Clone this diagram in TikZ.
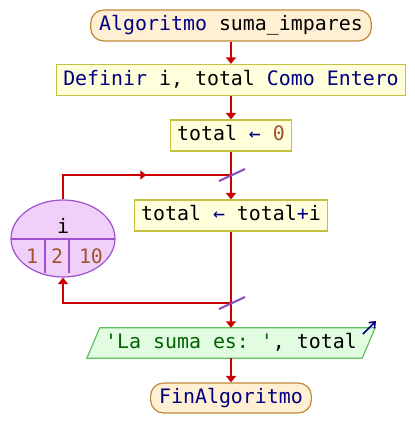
\documentclass[tikz,border=0pt]{standalone}
\usepackage{fontspec}
\setmonofont{DejaVu Sans Mono}
\usetikzlibrary{arrows.meta,shapes.geometric,decorations.markings}
\definecolor{kw}{HTML}{000080}
\definecolor{num}{HTML}{A0522D}
\definecolor{str}{HTML}{006400}
\definecolor{flow}{HTML}{CC0000}
\definecolor{termfill}{HTML}{FFF0D4}
\definecolor{termline}{HTML}{C08838}
\definecolor{procfill}{HTML}{FFFFDC}
\definecolor{procline}{HTML}{C4C040}
\definecolor{iofill}{HTML}{E2FCE2}
\definecolor{ioline}{HTML}{60C060}
\definecolor{loopfill}{HTML}{F0D0F8}
\definecolor{loopline}{HTML}{9C50D0}
\begin{document}
\begin{tikzpicture}[x=1pt,y=-1pt,
  font=\ttfamily\fontsize{19.9}{24}\selectfont,
  box/.style={minimum height=31pt,inner ysep=0pt,text height=14.5pt,text depth=4pt},
  term/.style={box,draw=termline,fill=termfill,line width=1.2pt,rounded corners=13pt,inner xsep=8.5pt},
  proc/.style={box,draw=procline,fill=procfill,line width=1.2pt,inner xsep=6.5pt},
  flowline/.style={draw=flow,line width=2.6pt},
  flowarrow/.style={flowline,-{Triangle[width=10pt,length=6.5pt]}},
  cut/.style={draw=loopline!90!black,line width=2pt},
  midarrow/.style={postaction={decorate},decoration={markings,
    mark=at position #1 with {\arrow[flow]{Triangle[width=9pt,length=6pt]}}}}]
\useasboundingbox (0,0) rectangle (415,448);

% main sequence, all centred on x = 231
\node[term] (start) at (231,25.5) {\textcolor{kw}{Algoritmo} suma\_impares};
\node[proc] (def) at (231,80) {\textcolor{kw}{Definir} i, total \textcolor{kw}{Como Entero}};
\node[proc] (init) at (231,135.5) {total \textcolor{kw}{←} \textcolor{num}{0}};
\node[proc] (body) at (231,215.5) {total \textcolor{kw}{←} total\textcolor{kw}{+}i};

% output block (parallelogram around the text)
\node[box,minimum width=275pt,inner xsep=0pt,minimum height=30pt] (out) at (231,343) {};
\draw[draw=ioline,fill=iofill,line width=1.2pt]
  ([xshift=6.5pt]out.north west) -- ([xshift=6.5pt]out.north east)
  -- ([xshift=-6.5pt]out.south east) -- ([xshift=-6.5pt]out.south west) -- cycle;
\node[box,inner sep=0pt] (outtext) at (231,343) {\textcolor{str}{'La suma es: '}, total};
\coordinate (wa) at (363,334);
\coordinate (wb) at (376,321);
\draw[kw,line width=1.6pt,-{Straight Barb[length=5pt,width=8pt]}] (wa) -- (wb);

\node[term,minimum height=30pt] (fin) at (231,398) {\textcolor{kw}{FinAlgoritmo}};

% loop counter
\node[ellipse,draw=loopline,fill=loopfill,line width=1.2pt,minimum width=104pt,minimum height=77pt,inner sep=0pt] (loop) at (63,238.5) {};
\coordinate (divL) at (11,239);
\coordinate (divR) at (115,239);
\draw[loopline,line width=1.2pt] (divL) -- (divR);
\coordinate (d1a) at (45,239);
\coordinate (d1b) at (45,273);
\coordinate (d2a) at (69,239);
\coordinate (d2b) at (69,273);
\draw[loopline,line width=1.2pt] (d1a) -- (d1b) (d2a) -- (d2b);
\node (var) at (63,226) {i};
\node[num] (v1) at (32,256) {1};
\node[num] (v2) at (57,256) {2};
\node[num] (v3) at (91,256) {10};

% connectors
\coordinate (cutTop) at (231,175);
\coordinate (cutBot) at (231,303);
\coordinate (loopTL) at (63,175);
\coordinate (loopBL) at (63,303);

\draw[flowarrow] (start) -- (def);
\draw[flowarrow] (def) -- (init);
\draw[flowline] (init) -- (cutTop);
\draw[flowarrow] (cutTop) -- (body);
\draw[flowline,midarrow=0.56] (loop.north) -- (loopTL) -- (cutTop);
\draw[flowline] (body) -- (cutBot);
\draw[flowarrow] (cutBot) -- (loopBL) -- (loop.south);
\draw[flowarrow] (cutBot) -- (out.north);
\draw[flowarrow] (out.south) -- (fin);

% loop crossing marks
\draw[cut] ([xshift=-12pt,yshift=-6pt]cutTop) -- ([xshift=14pt,yshift=6pt]cutTop);
\draw[cut] ([xshift=-12pt,yshift=-6pt]cutBot) -- ([xshift=14pt,yshift=6pt]cutBot);
\end{tikzpicture}
\end{document}
